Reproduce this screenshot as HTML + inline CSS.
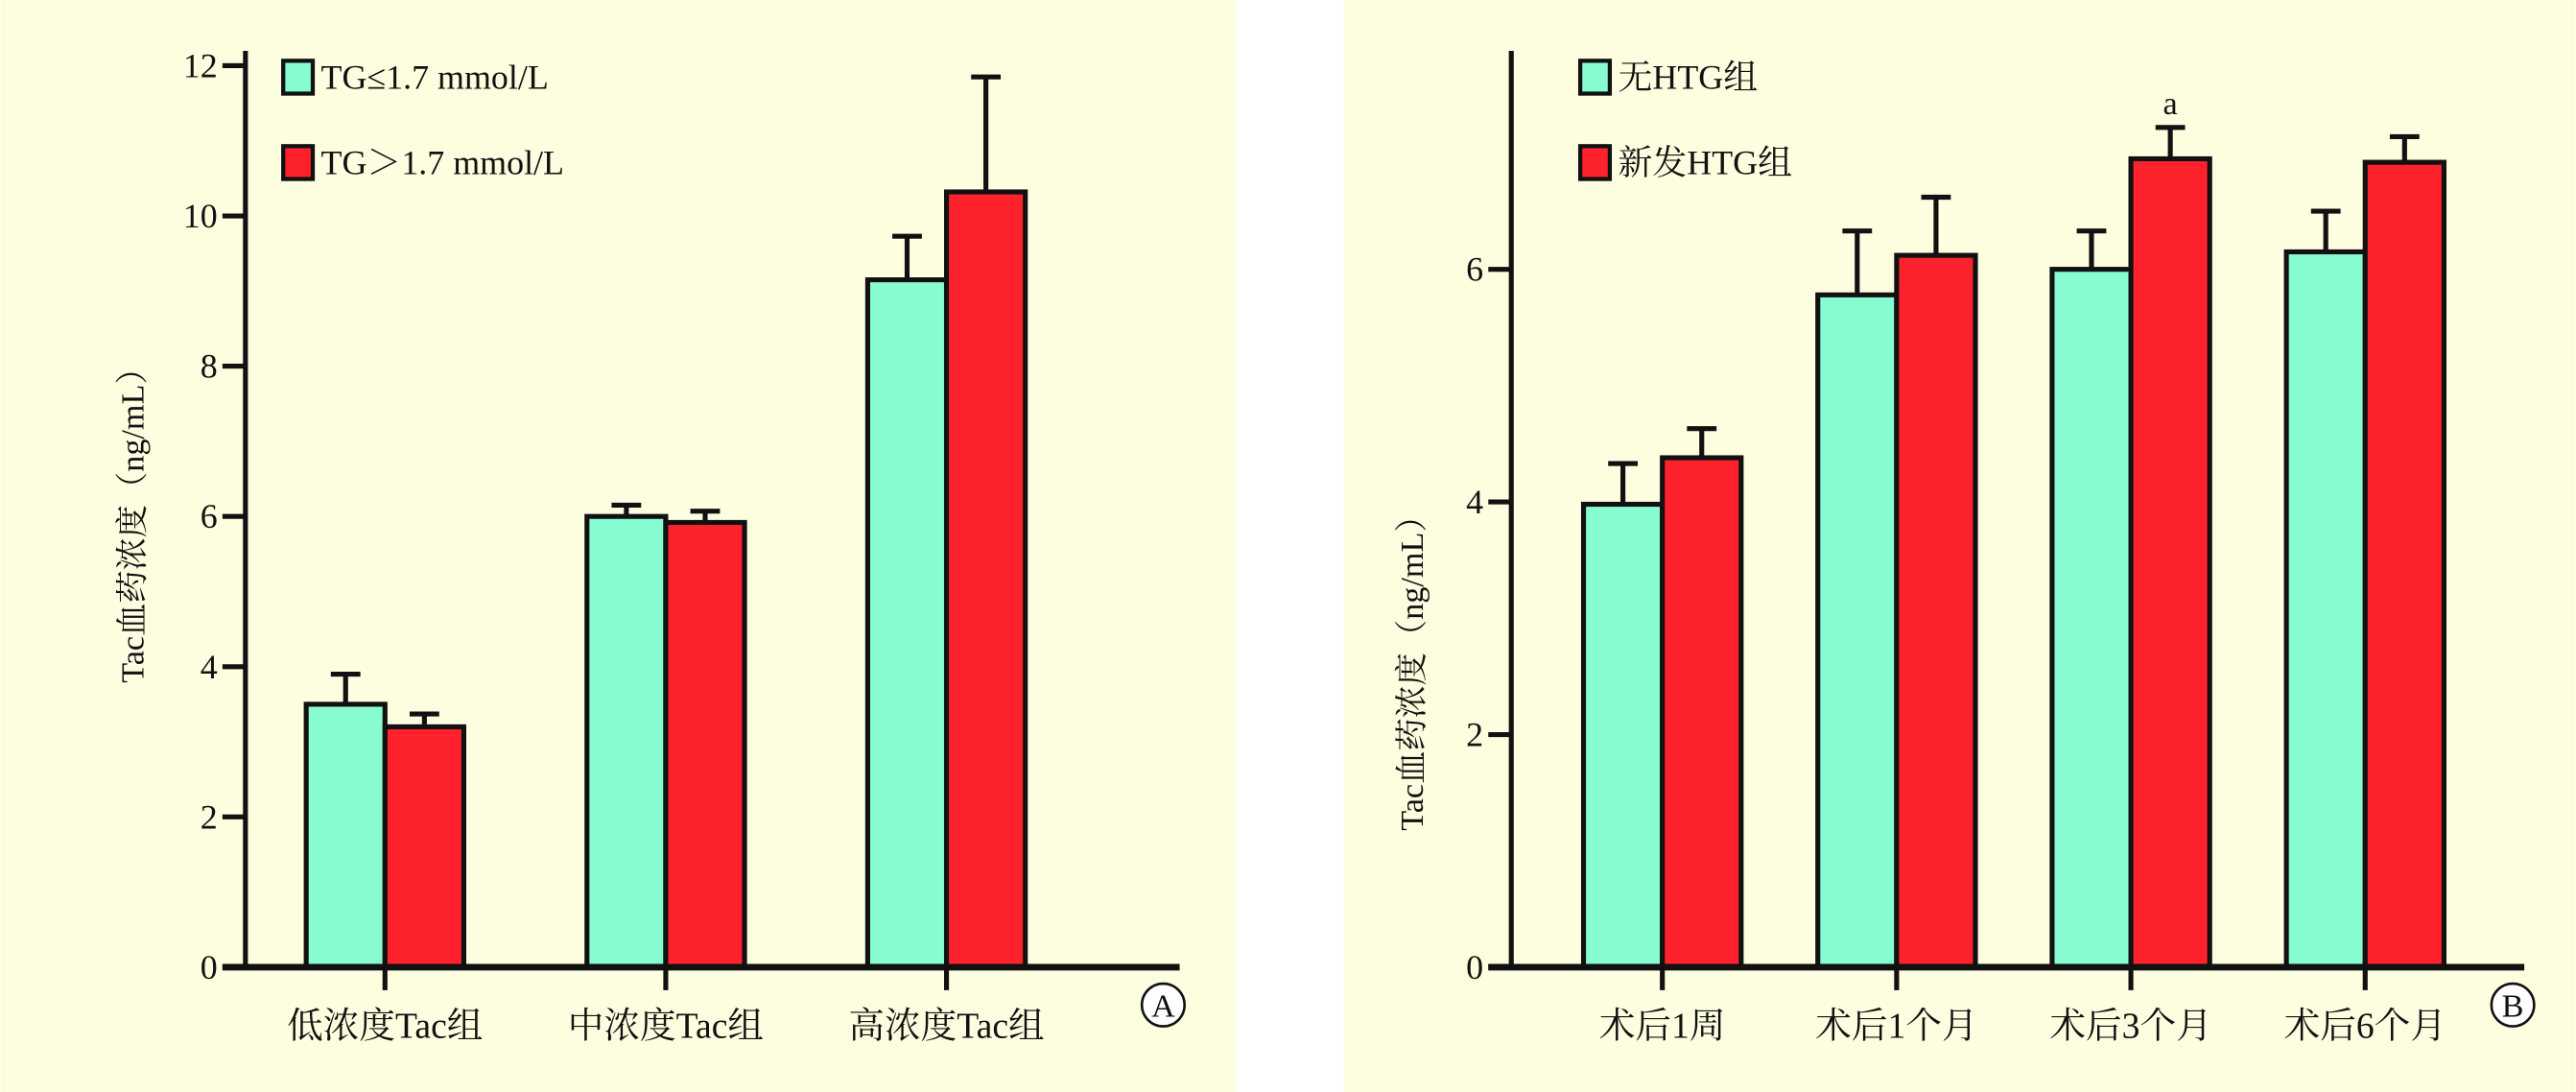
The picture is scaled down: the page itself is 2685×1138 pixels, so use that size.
<!DOCTYPE html>
<html><head><meta charset="utf-8"><style>
html,body{margin:0;padding:0;background:#fff;}
svg{display:block;}
text{font-family:"Liberation Serif","Noto Serif CJK SC","Noto Sans CJK SC",serif;fill:#111;}
</style></head><body>
<svg id="fig" width="2685" height="1138" viewBox="0 0 1568 665" xmlns="http://www.w3.org/2000/svg">
<rect x="0" y="0" width="1568" height="665" fill="#fff"/>
<rect x="0" y="0" width="752" height="665" fill="#fdfde0"/>
<rect x="818" y="0" width="750" height="665" fill="#fdfde0"/>
<g id="pa"></g>
<g id="pb"></g>
</svg>
<script>
// Panel A data
const catsA = ["低浓度Tac组", "中浓度Tac组", "高浓度Tac组"];
const lowTG = [3.5, 6.0, 9.15];
const lowTGErr = [0.4, 0.15, 0.58];
const highTG = [3.2, 5.92, 10.32];
const highTGErr = [0.17, 0.15, 1.53];
const ticksA = [0, 2, 4, 6, 8, 10, 12];
const legendA = ["TG≤1.7 mmol/L", "TG＞1.7 mmol/L"];
// Panel B data
const catsB = ["术后1周", "术后1个月", "术后3个月", "术后6个月"];
const noHTG = [3.98, 5.78, 6.0, 6.15];
const noHTGErr = [0.35, 0.55, 0.33, 0.35];
const newHTG = [4.38, 6.12, 6.95, 6.92];
const newHTGErr = [0.25, 0.5, 0.27, 0.22];
const ticksB = [0, 2, 4, 6];
const legendB = ["无HTG组", "新发HTG组"];

const NS = "http://www.w3.org/2000/svg";
function mk(parent, tag, attrs, txt) {
  const e = document.createElementNS(NS, tag);
  for (const k in attrs) e.setAttribute(k, attrs[k]);
  if (txt !== undefined) e.textContent = txt;
  parent.appendChild(e);
  return e;
}
const TEAL = "#86fcd0", RED = "#fe222c", LW = 3;

function drawPanel(g, cfg) {
  const y = v => cfg.y0 - (v - 0) / cfg.vmax * (cfg.y0 - cfg.yTopVal);
  const x = i => cfg.xStart + i * cfg.xStep;
  // bars
  cfg.series.forEach((s, si) => {
    s.vals.forEach((v, i) => {
      const cx = x(i);
      const bx = si === 0 ? cx - cfg.bw : cx;
      const top = y(v), errTop = y(v + s.err[i]);
      const ex = bx + cfg.bw / 2;
      const eb = mk(g, "line", {x1: ex, x2: ex, y1: top, y2: errTop, stroke: "#111", "stroke-width": LW});
      
      
      const cap = mk(g, "line", {x1: ex - 9, x2: ex + 9, y1: errTop, y2: errTop, stroke: "#111", "stroke-width": LW});
      
      
      const r = mk(g, "rect", {x: bx, y: top, width: cfg.bw, height: cfg.y0 - top, fill: s.color, stroke: "#111", "stroke-width": LW});
      
      
    });
  });
  // axes
  const ya = mk(g, "line", {x1: cfg.ax, x2: cfg.ax, y1: cfg.axTop, y2: cfg.y0 + 1.5, stroke: "#111", "stroke-width": LW});
  
  
  const xa = mk(g, "line", {x1: cfg.ax - 14, x2: cfg.axRight, y1: cfg.y0, y2: cfg.y0, stroke: "#111", "stroke-width": LW + 1});
  
  
  cfg.ticks.forEach(t => {
    const ty = y(t);
    const tl = mk(g, "line", {x1: cfg.ax - 14, x2: cfg.ax, y1: ty, y2: ty, stroke: "#111", "stroke-width": LW});
    
    
    const tt = mk(g, "text", {x: cfg.ax - 17, y: ty + 7, "text-anchor": "end", "font-size": 21}, String(t));
    
    
  });
  cfg.cats.forEach((c, i) => {
    const tl = mk(g, "line", {x1: x(i), x2: x(i), y1: cfg.y0, y2: cfg.y0 + 14, stroke: "#111", "stroke-width": LW});
    
    
    const tt = mk(g, "text", {x: x(i), y: cfg.y0 + 43, "text-anchor": "middle", "font-size": 22}, c);
    
    
  });
  // y title
  const yt = mk(g, "text", {x: 0, y: 0, "text-anchor": "middle", "font-size": 20, transform: "translate(" + cfg.titleX + "," + cfg.titleY + ") rotate(-90)"}, "Tac血药浓度（ng/mL）");
  
  
  // legend
  cfg.series.forEach((s, si) => {
    const ly = 37 + si * 52;
    const lr = mk(g, "rect", {x: cfg.legX, y: ly, width: 18, height: 20, fill: s.color, stroke: "#111", "stroke-width": 2.5});
    
    
    const lt = mk(g, "text", {x: cfg.legX + 23, y: ly + 17, "font-size": 21}, cfg.legend[si]);
    
    
  });
  // panel letter
  const pc = mk(g, "circle", {cx: cfg.letterX, cy: 612, r: 13, fill: "#fff", stroke: "#111", "stroke-width": 1.5});
  
  
  const pt = mk(g, "text", {x: cfg.letterX, y: 619, "text-anchor": "middle", "font-size": 20}, cfg.letter);
  
  
  return {x, y};
}

drawPanel(document.getElementById("pa"), {
  cats: catsA, ticks: ticksA, legend: legendA, vmax: 12, y0: 589, yTopVal: 40,
  xStart: 234, xStep: 171, bw: 48, ax: 149, axTop: 31, axRight: 718,
  titleX: 87, titleY: 315, legX: 172, letter: "A", letterX: 708,
  series: [{key: "tg-low", vals: lowTG, err: lowTGErr, color: TEAL},
           {key: "tg-high", vals: highTG, err: highTGErr, color: RED}]
});
const axB = drawPanel(document.getElementById("pb"), {
  cats: catsB, ticks: ticksB, legend: legendB, vmax: 6, y0: 589, yTopVal: 164,
  xStart: 1012, xStep: 142.7, bw: 48, ax: 920, axTop: 31, axRight: 1537,
  titleX: 866, titleY: 405, legX: 962, letter: "B", letterX: 1530,
  series: [{key: "no-htg", vals: noHTG, err: noHTGErr, color: TEAL},
           {key: "new-htg", vals: newHTG, err: newHTGErr, color: RED}]
});
const sig = mk(document.getElementById("pb"), "text", {x: axB.x(2) + 24, y: axB.y(newHTG[2] + newHTGErr[2]) - 8, "text-anchor": "middle", "font-size": 20}, "a");


</script>
</body></html>
